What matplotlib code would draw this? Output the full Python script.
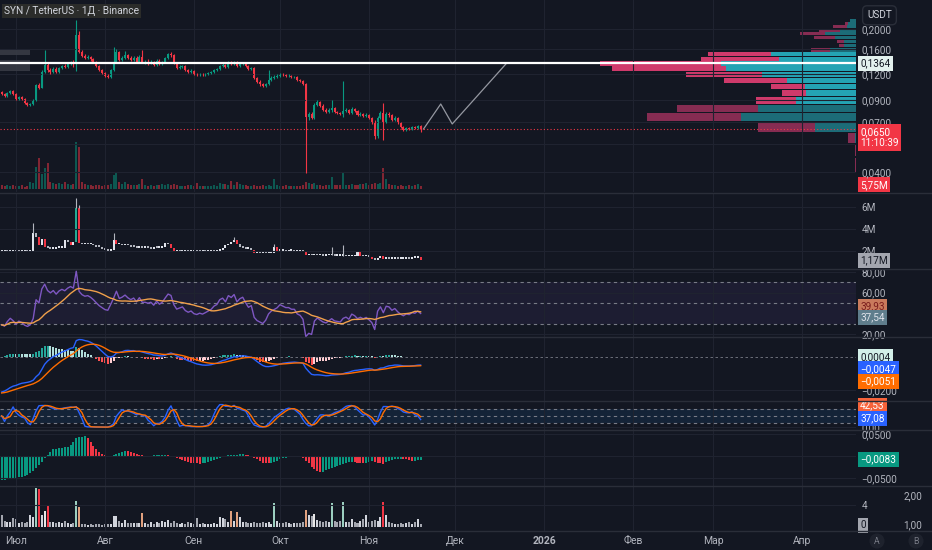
import numpy as np
import pandas as pd
import matplotlib
matplotlib.use("Agg")
import matplotlib.pyplot as plt
import matplotlib.dates as mdates
from matplotlib.lines import Line2D
from matplotlib.patches import Rectangle
from matplotlib.transforms import blended_transform_factory
from matplotlib.ticker import NullLocator

plt.rcParams['font.family'] = ['Roboto', 'DejaVu Sans']

# ---------------- data ----------------
start_date = '2025-06-26'
first_open = 0.0985
closes = [0.0964, 0.0942, 0.0974, 0.0997, 0.0964, 0.0911, 0.0932, 0.0911, 0.0871, 0.0851,
          0.0861, 0.0900, 0.1066, 0.1031, 0.1234, 0.1335, 0.1262, 0.1234, 0.1276, 0.1234,
          0.1290, 0.1320, 0.1305, 0.1350, 0.1380, 0.1365, 0.1870, 0.1545, 0.1477, 0.1444,
          0.1460, 0.1428, 0.1380, 0.1320, 0.1262, 0.1220, 0.1180, 0.1166, 0.1262, 0.1380,
          0.1545, 0.1412, 0.1444, 0.1493, 0.1444, 0.1412, 0.1444, 0.1380, 0.1460, 0.1380,
          0.1380, 0.1365, 0.1380, 0.1335, 0.1396, 0.1350, 0.1380, 0.1444, 0.1510, 0.1493,
          0.1365, 0.1290, 0.1305, 0.1320, 0.1262, 0.1234, 0.1248, 0.1206, 0.1193, 0.1206,
          0.1193, 0.1206, 0.1220, 0.1234, 0.1262, 0.1276, 0.1320, 0.1335, 0.1305, 0.1365,
          0.1350, 0.1380, 0.1320, 0.1350, 0.1365, 0.1320, 0.1276, 0.1290, 0.1153, 0.1103,
          0.1078, 0.1054, 0.1078, 0.1128, 0.1153, 0.1166, 0.1180, 0.1206, 0.1193, 0.1180,
          0.1180, 0.1166, 0.1166, 0.1128, 0.1115, 0.1078, 0.0744, 0.0770, 0.0736, 0.0851,
          0.0881, 0.0842, 0.0805, 0.0787, 0.0805, 0.0823, 0.0787, 0.0778, 0.0770, 0.0796,
          0.0805, 0.0778, 0.0814, 0.0796, 0.0761, 0.0770, 0.0753, 0.0761, 0.0736, 0.0703,
          0.0601, 0.0736, 0.0778, 0.0703, 0.0770, 0.0761, 0.0719, 0.0736, 0.0696, 0.0665,
          0.0643, 0.0658, 0.0650, 0.0665, 0.0658, 0.0673, 0.0650]
highs = [0.0995, 0.0975, 0.0985, 0.1010, 0.1005, 0.0970, 0.0945, 0.0940, 0.0920, 0.0880,
         0.0875, 0.0910, 0.1080, 0.1090, 0.1260, 0.1580, 0.1360, 0.1290, 0.1300, 0.1300,
         0.1310, 0.1340, 0.1345, 0.1370, 0.1400, 0.1410, 0.2210, 0.1950, 0.1580, 0.1510,
         0.1490, 0.1480, 0.1440, 0.1400, 0.1335, 0.1280, 0.1240, 0.1210, 0.1280, 0.1634,
         0.1600, 0.1560, 0.1480, 0.1560, 0.1510, 0.1470, 0.1480, 0.1480, 0.1500, 0.1580,
         0.1410, 0.1420, 0.1410, 0.1400, 0.1420, 0.1420, 0.1400, 0.1460, 0.1530, 0.1540,
         0.1510, 0.1380, 0.1330, 0.1340, 0.1330, 0.1275, 0.1270, 0.1260, 0.1220, 0.1225,
         0.1220, 0.1220, 0.1235, 0.1250, 0.1280, 0.1295, 0.1340, 0.1360, 0.1350, 0.1390,
         0.1400, 0.1400, 0.1400, 0.1380, 0.1385, 0.1380, 0.1335, 0.1310, 0.1300, 0.1170,
         0.1125, 0.1095, 0.1095, 0.1260, 0.1175, 0.1190, 0.1200, 0.1225, 0.1220, 0.1210,
         0.1200, 0.1195, 0.1185, 0.1175, 0.1145, 0.1130, 0.1090, 0.0790, 0.0790, 0.0870,
         0.0900, 0.0895, 0.0860, 0.0820, 0.0820, 0.0900, 0.0830, 0.0800, 0.0790, 0.1115,
         0.0825, 0.0815, 0.0830, 0.0825, 0.0805, 0.0785, 0.0780, 0.0775, 0.0770, 0.0745,
         0.0720, 0.0750, 0.0800, 0.0870, 0.0790, 0.0785, 0.0770, 0.0755, 0.0745, 0.0705,
         0.0670, 0.0668, 0.0665, 0.0675, 0.0675, 0.0680, 0.0680]
lows = [0.0950, 0.0930, 0.0935, 0.0965, 0.0955, 0.0900, 0.0905, 0.0900, 0.0862, 0.0840,
        0.0845, 0.0855, 0.0895, 0.1020, 0.1025, 0.1220, 0.1240, 0.1210, 0.1220, 0.1215,
        0.1225, 0.1275, 0.1290, 0.1295, 0.1335, 0.1300, 0.1250, 0.1520, 0.1460, 0.1420,
        0.1430, 0.1400, 0.1360, 0.1300, 0.1245, 0.1200, 0.1160, 0.1150, 0.1155, 0.1250,
        0.1370, 0.1400, 0.1395, 0.1430, 0.1420, 0.1390, 0.1400, 0.1360, 0.1370, 0.1360,
        0.1355, 0.1340, 0.1345, 0.1320, 0.1320, 0.1330, 0.1335, 0.1370, 0.1430, 0.1460,
        0.1350, 0.1275, 0.1270, 0.1290, 0.1245, 0.1215, 0.1220, 0.1190, 0.1180, 0.1180,
        0.1180, 0.1185, 0.1195, 0.1210, 0.1225, 0.1250, 0.1265, 0.1300, 0.1290, 0.1295,
        0.1330, 0.1330, 0.1300, 0.1310, 0.1335, 0.1305, 0.1260, 0.1265, 0.1140, 0.1090,
        0.1060, 0.1040, 0.1045, 0.1070, 0.1115, 0.1140, 0.1155, 0.1170, 0.1180, 0.1170,
        0.1165, 0.1155, 0.1150, 0.1115, 0.1100, 0.1065, 0.0397, 0.0720, 0.0725, 0.0730,
        0.0840, 0.0830, 0.0795, 0.0775, 0.0780, 0.0790, 0.0780, 0.0770, 0.0760, 0.0740,
        0.0785, 0.0770, 0.0770, 0.0785, 0.0750, 0.0755, 0.0745, 0.0745, 0.0725, 0.0690,
        0.0580, 0.0588, 0.0725, 0.0575, 0.0695, 0.0745, 0.0710, 0.0710, 0.0685, 0.0655,
        0.0635, 0.0638, 0.0640, 0.0645, 0.0650, 0.0650, 0.0630]
volume_m = [8, 6, 8, 6, 8, 6, 6, 8, 4, 6,
            14, 12, 44, 62, 30, 42, 52, 14, 12, 10,
            12, 10, 14, 10, 8, 10, 94, 84, 14, 10,
            8, 8, 6, 8, 8, 6, 8, 8, 10, 28,
            32, 14, 10, 14, 10, 8, 8, 8, 10, 20,
            8, 6, 8, 6, 8, 8, 10, 8, 10, 8,
            10, 8, 6, 6, 6, 8, 8, 6, 12, 6,
            6, 6, 6, 6, 8, 6, 12, 10, 10, 8,
            16, 8, 14, 10, 8, 8, 6, 6, 8, 6,
            6, 8, 6, 8, 6, 20, 8, 6, 6, 8,
            6, 6, 6, 6, 6, 8, 14, 12, 10, 12,
            8, 8, 6, 8, 8, 24, 8, 8, 8, 32,
            8, 8, 10, 8, 8, 10, 10, 12, 8, 10,
            12, 10, 12, 42, 20, 10, 8, 8, 6, 8,
            6, 6, 8, 6, 8, 10, 5.75]
oi_m = [1.9, 1.95, 1.9, 1.95, 2.0, 1.95, 1.9, 1.95, 2.0, 1.95,
        2.0, 3.6, 3.3, 2.5, 3.1, 2.4, 2.3, 2.2, 2.2, 2.25,
        2.3, 2.3, 3.0, 2.8, 2.5, 2.8, 5.9, 2.7, 2.6, 2.7,
        2.6, 2.6, 2.5, 2.4, 2.35, 2.2, 2.1, 2.0, 2.05, 3.0,
        2.6, 2.6, 2.5, 2.55, 2.5, 2.4, 2.35, 2.3, 2.3, 2.25,
        2.3, 2.25, 2.2, 2.3, 2.25, 2.3, 2.4, 2.7, 2.6, 2.3,
        1.95, 1.95, 1.9, 1.9, 1.95, 1.9, 1.95, 2.0, 1.95, 1.9,
        1.95, 1.9, 1.95, 2.0, 1.95, 2.0, 2.1, 2.3, 2.5, 2.6,
        2.8, 3.0, 2.6, 2.4, 2.3, 2.2, 2.2, 2.1, 1.85, 1.85,
        1.8, 1.85, 1.8, 1.85, 1.85, 2.4, 2.0, 2.0, 2.0, 1.95,
        2.0, 2.0, 1.95, 1.95, 2.0, 1.9, 1.6, 1.7, 1.6, 1.65,
        1.6, 1.6, 1.55, 1.6, 1.6, 1.6, 1.55, 1.55, 1.55, 1.55,
        1.5, 1.5, 1.5, 1.55, 2.0, 1.55, 1.5, 1.5, 1.45, 1.3,
        1.2, 1.4, 1.5, 1.3, 1.35, 1.3, 1.3, 1.3, 1.25, 1.3,
        1.3, 1.35, 1.3, 1.35, 1.4, 1.45, 1.17]
oi_wick_index = [11, 26, 27, 39, 81, 95, 115, 119]
oi_wick_high = [4.5, 6.8, 6.2, 3.6, 3.3, 2.6, 2.4, 2.5]
ao_values = [-0.0546, -0.054, -0.053, -0.052, -0.0515, -0.051, -0.0485, -0.047, -0.0455, -0.043,
             -0.039, -0.035, -0.028, -0.020, -0.013, -0.004, 0.002, 0.010, 0.015, 0.017,
             0.0175, 0.018, 0.020, 0.021, 0.024, 0.032, 0.042, 0.044, 0.044, 0.0455,
             0.040, 0.031, 0.023, 0.016, 0.010, 0.0055, 0.0015, -0.003, -0.002, 0.0015,
             0.0045, 0.0075, 0.010, 0.012, 0.011, 0.008, 0.006, 0.0045, 0.003, 0.0015,
             0.001, 0.0, 0.001, 0.0015, 0.0015, 0.0016, 0.0017, 0.002, 0.0015, 0.0,
             -0.002, -0.0045, -0.007, -0.009, -0.011, -0.0135, -0.015, -0.0165, -0.017, -0.0172,
             -0.0165, -0.016, -0.0145, -0.012, -0.010, -0.0075, -0.0045, -0.002, 0.0, 0.0015,
             0.002, 0.003, 0.0032, 0.004, 0.0042, 0.003, 0.0015, -0.001, -0.004, -0.0075,
             -0.011, -0.015, -0.0165, -0.017, -0.016, -0.0135, -0.0105, -0.0075, -0.005, -0.004,
             -0.002, -0.0015, -0.0016, -0.002, -0.003, -0.0045, -0.0105, -0.0165, -0.024, -0.030,
             -0.035, -0.037, -0.0355, -0.032, -0.0295, -0.027, -0.025, -0.023, -0.020, -0.018,
             -0.016, -0.0145, -0.0135, -0.0145, -0.016, -0.0165, -0.017, -0.016, -0.0135, -0.011,
             -0.0135, -0.016, -0.017, -0.0175, -0.0135, -0.0105, -0.009, -0.0075, -0.007, -0.006,
             -0.0065, -0.0075, -0.009, -0.011, -0.0105, -0.009, -0.0083]
relvol = [2.3, 1.1, 0.9, 1.0, 1.6, 1.5, 0.8, 1.0, 0.7, 0.9,
          2.3, 1.8, 7.3, 7.0, 2.3, 2.9, 4.1, 0.9, 1.0, 0.7,
          0.9, 0.8, 1.1, 0.8, 0.5, 0.7, 4.9, 3.7, 0.6, 0.5,
          0.4, 0.5, 0.4, 0.5, 0.5, 0.4, 0.5, 0.5, 0.6, 2.1,
          2.0, 1.1, 0.8, 1.3, 0.8, 0.7, 0.8, 0.7, 0.8, 2.6,
          0.8, 0.6, 0.9, 0.6, 1.0, 0.8, 1.1, 0.9, 1.3, 0.8,
          1.1, 0.8, 0.6, 0.7, 0.6, 0.9, 0.8, 0.6, 1.7, 0.6,
          0.7, 0.5, 0.6, 0.5, 0.8, 0.6, 1.8, 1.6, 1.5, 0.9,
          3.0, 1.1, 2.8, 1.8, 1.0, 0.9, 0.7, 0.8, 1.0, 0.7,
          0.8, 0.9, 0.7, 1.0, 0.6, 4.5, 1.2, 0.8, 0.7, 1.0,
          0.7, 0.6, 0.8, 0.7, 0.8, 1.0, 3.1, 2.3, 2.0, 2.5,
          1.3, 1.1, 0.9, 1.2, 1.0, 4.5, 1.1, 0.9, 1.1, 4.6,
          1.0, 0.9, 1.4, 0.9, 0.8, 1.2, 1.4, 2.3, 1.0, 1.1,
          1.3, 1.2, 1.8, 4.6, 2.3, 0.9, 0.8, 0.6, 0.5, 0.8,
          0.6, 0.7, 0.9, 0.6, 1.0, 1.5, 0.5]

# volume profile (right side of the price pane)
vp_edges = [0.2238, 0.2161, 0.2085, 0.2008, 0.1931, 0.1855, 0.1778, 0.1701, 0.1624, 0.1548,
            0.1471, 0.1394, 0.1318, 0.1241, 0.1164, 0.1088, 0.1011, 0.0934, 0.0857, 0.0781,
            0.0704, 0.0627, 0.0550, 0.0474, 0.0397]
vp_up = [6, 8, 9, 16, 31, 21, 12, 12, 26, 85, 77, 134, 129, 94, 69, 51, 50, 60, 98, 115, 41, 1, 0, 0]
vp_down = [0, 3, 14, 21, 25, 21, 7, 5, 19, 62, 77, 121, 114, 75, 62, 34, 24, 40, 80, 93, 57, 7, 1, 1]
vp_value_area = (0.0857, 0.1548)

key_level = 0.1364
last_price = 0.0650
timer_text = '11:10:39'
proj_dates = ['2025-11-20', '2025-11-26', '2025-11-30', '2025-12-19']
proj_prices = [0.0650, 0.0861, 0.0688, 0.1364]

rsi_seed_gain, rsi_seed_loss = 0.0012, 0.0028
ema12_seed, ema26_seed, signal_seed = 0.108, 0.130, -0.022

# last-value labels as printed on the scales
lbl_volume = '5,75M'
lbl_oi = (1.17, '1,17M')
lbl_rsi_ma = (39.93, '39,93')
lbl_rsi = (37.54, '37,54')
lbl_hist = (0.0004, '0,0004')
lbl_macd = (-0.0047, '\u22120,0047')
lbl_signal = (-0.0051, '\u22120,0051')
lbl_d = (42.53, '42,53')
lbl_k = (37.08, '37,08')
lbl_ao = (-0.0083, '\u22120,0083')
lbl_relvol = (0, '0')

price_ticks = [0.2, 0.16, 0.12, 0.09, 0.07, 0.055, 0.04]
price_labels = ['0,2000', '0,1600', '0,1200', '0,0900', '0,0700', '0,0550', '0,0400']
month_ticks = ['2025-07-01', '2025-08-01', '2025-09-01', '2025-10-01', '2025-11-01',
               '2025-12-01', '2026-01-01', '2026-02-01', '2026-03-01', '2026-04-01']
month_labels = ['Июл', 'Авг', 'Сен', 'Окт', 'Ноя', 'Дек', '2026', 'Фев', 'Мар', 'Апр']

# ---------------- derived ----------------
BG = '#131722'
GRID = '#1f2330'
TXT = '#b2b5be'
UP = '#089981'
DN = '#f23645'
W, H = 932, 550

dates = pd.date_range(start_date, periods=len(closes), freq='D')
x = mdates.date2num(dates)
c = np.array(closes)
o = np.array([first_open] + closes[:-1])
hi = np.array(highs)
lo = np.array(lows)
up = c >= o
candle_col = np.where(up, UP, DN)


def rma(v, n, seed):
    out = np.empty(len(v)); prev = seed
    for k, val in enumerate(v):
        prev = prev + (val - prev) / n
        out[k] = prev
    return out


def ema(v, n, seed):
    a = 2.0 / (n + 1); out = np.empty(len(v)); prev = seed
    for k, val in enumerate(v):
        prev = prev + a * (val - prev)
        out[k] = prev
    return out


delta = c - o
ag = rma(np.clip(delta, 0, None), 14, rsi_seed_gain)
al = rma(np.clip(-delta, 0, None), 14, rsi_seed_loss)
rsi = 100 - 100 / (1 + ag / al)
rsi_ma = pd.Series(rsi).rolling(14, min_periods=1).mean().values

macd = ema(c, 12, ema12_seed) - ema(c, 26, ema26_seed)
signal = ema(macd, 9, signal_seed)
hist = macd - signal

rs = pd.Series(rsi)
lo14 = rs.rolling(14, min_periods=1).min()
hi14 = rs.rolling(14, min_periods=1).max()
stoch = (100 * (rs - lo14) / (hi14 - lo14).replace(0, np.nan)).fillna(50)
k_line = stoch.rolling(3, min_periods=1).mean().values
d_line = pd.Series(k_line).rolling(3, min_periods=1).mean().values

# ---------------- figure ----------------
fig = plt.figure(figsize=(W / 100, H / 100), dpi=100, facecolor=BG)


def rect(top, bottom, left=0, right=856):
    return [left / W, 1 - bottom / H, (right - left) / W, (bottom - top) / H]


x_origin = mdates.date2num(pd.Timestamp('2025-07-01'))
xlim = (x_origin - 5.57, x_origin + 292.7)
month_x = mdates.date2num(pd.to_datetime(month_ticks))
BW = 0.7


def style(ax, grid=True):
    ax.set_facecolor('none')
    for s in ax.spines.values():
        s.set_visible(False)
    ax.set_xlim(xlim)
    ax.set_xticks(month_x)
    ax.tick_params(axis='x', length=0, labelbottom=False)
    ax.yaxis.tick_right()
    ax.tick_params(axis='y', length=0, labelsize=7.2, labelcolor=TXT, pad=4)
    ax.grid(grid, color=GRID, lw=0.8)


def box(ax, y, text, fc, tc, dy=0.0, va='center', fs=7.2):
    ax.annotate(text, xy=(1, y), xycoords=('axes fraction', 'data'), xytext=(3, dy),
                textcoords='offset points', ha='left', va=va, fontsize=fs, color=tc,
                bbox=dict(boxstyle='square,pad=0.25', fc=fc, ec='none'),
                annotation_clip=False, zorder=20, linespacing=1.15)


price_ylim = (0.03204, 0.2770)

# grid layer of the price pane
ax_g = fig.add_axes(rect(0, 192))
ax_g.set_yscale('log')
ax_g.set_ylim(price_ylim)
style(ax_g)
ax_g.set_yticks(price_ticks)
ax_g.yaxis.set_minor_locator(NullLocator())
ax_g.tick_params(axis='y', labelright=False)
ax_g.set_zorder(0)

# volume overlay
ax_v = fig.add_axes(rect(0, 192))
style(ax_v, grid=False)
ax_v.set_ylim(-6, 378)
ax_v.set_yticks([])
ax_v.bar(x, volume_m, width=BW, color=candle_col, alpha=0.5, linewidth=0)
ax_v.set_zorder(1)
box(ax_v, volume_m[-1], lbl_volume, DN, 'white', dy=1)

# volume profile
edges = np.array(vp_edges)
vbot = edges[1:]
vh = edges[:-1] - edges[1:]
vu = np.array(vp_up, float)
vd = np.array(vp_down, float)
in_va = (vbot >= vp_value_area[0] - 1e-6) & (edges[:-1] <= vp_value_area[1] + 1e-6)
ax_p = fig.add_axes(rect(0, 192, 600, 856))
ax_p.set_yscale('log')
ax_p.set_ylim(price_ylim)
ax_p.set_xlim((vu + vd).max(), 0)
ax_p.axis('off')
ax_p.set_zorder(2)
ax_p.barh(vbot + vh * 0.06, vu, height=vh * 0.88, left=0, align='edge',
          color=np.where(in_va, '#24a3b3', '#1c6c78'), linewidth=0)
ax_p.barh(vbot + vh * 0.06, vd, height=vh * 0.88, left=vu, align='edge',
          color=np.where(in_va, '#cf3a6b', '#862c52'), linewidth=0)

# candles
ax = fig.add_axes(rect(0, 192))
ax.set_yscale('log')
ax.set_ylim(price_ylim)
style(ax, grid=False)
ax.set_yticks(price_ticks)
ax.set_yticklabels(price_labels)
ax.yaxis.set_minor_locator(NullLocator())
ax.set_zorder(3)
ax.vlines(x, lo, hi, colors=candle_col, lw=0.8)
ax.bar(x, np.maximum(np.abs(c - o), c * 0.005), bottom=np.minimum(o, c), width=BW,
       color=candle_col, linewidth=0)
ax.axhline(key_level, color='white', lw=1.6, zorder=5)
ax.axhline(last_price, color=DN, lw=0.8, ls=(0, (1, 2)), zorder=4)
ax.plot(mdates.date2num(pd.to_datetime(proj_dates)), proj_prices, color='#9598a1', lw=0.9)
tr = blended_transform_factory(ax.transAxes, ax.transData)
for (p0, p1) in [(0.1493, 0.1580), (0.1248, 0.1412)]:
    ax.add_patch(Rectangle((0, p0), 0.035, p1 - p0, transform=tr, fc='#3a3d47',
                           ec='none', alpha=0.85, zorder=2))
ax.text(0.005, 0.945, 'SYN / TetherUS · 1Д · Binance', transform=ax.transAxes,
        fontsize=7.3, color='#d1d4dc', va='center', ha='left',
        bbox=dict(boxstyle='square,pad=0.2', fc='#2e2f2c', ec='none', alpha=0.9))
ax.annotate('USDT', xy=(1, 1), xycoords='axes fraction', xytext=(8, -11),
            textcoords='offset points', ha='left', va='center', fontsize=7.2, color='#d1d4dc',
            bbox=dict(boxstyle='round,pad=0.45', fc='#131722', ec='#2a2e39'),
            annotation_clip=False)
box(ax, key_level, '0,1364', '#e3f1ee', '#131722')
box(ax, last_price, '0,0650\n' + timer_text, DN, 'white', dy=1.5, va='top')

# open-interest style candle pane
oi = np.array(oi_m)
oi_o = np.array([oi_m[0]] + oi_m[:-1])
ch = (oi - oi_o) / oi_o
oi_col = np.where(ch > 1.0, '#22ab94', np.where(ch < -0.10, DN,
                  np.where(oi >= oi_o, '#e0e3eb', '#b2b5be')))
ax2 = fig.add_axes(rect(193, 268))
style(ax2)
ax2.set_ylim(0.45, 7.27)
ax2.set_yticks([2, 4, 6])
ax2.set_yticklabels(['2M', '4M', '6M'])
wi = np.array(oi_wick_index)
ax2.vlines(x[wi], np.maximum(oi, oi_o)[wi], oi_wick_high, colors='#b2b5be', lw=0.8)
ax2.bar(x, np.maximum(np.abs(oi - oi_o), 0.16), bottom=np.minimum(oi, oi_o), width=BW,
        color=oi_col, linewidth=0)
box(ax2, lbl_oi[0], lbl_oi[1], '#a3a6af', '#131722')

# RSI pane
ax3 = fig.add_axes(rect(269, 337))
style(ax3)
ax3.set_ylim(17.1, 82.9)
ax3.set_yticks([20, 60, 80])
ax3.set_yticklabels(['20,00', '60,00', '80,00'])
ax3.axhspan(30, 70, color='#7e57c2', alpha=0.1, lw=0)
for lv in (70, 50, 30):
    ax3.axhline(lv, color='#787b86', lw=0.8, ls=(0, (3, 3)))
ax3.plot(x, rsi, color='#7e57c2', lw=1.0)
ax3.plot(x, rsi_ma, color='#f0a04b', lw=1.0)
box(ax3, lbl_rsi_ma[0], lbl_rsi_ma[1], '#c97a5c', '#7a1d1d', dy=5.3)
box(ax3, lbl_rsi[0], lbl_rsi[1], '#5f7d8c', '#e0e3eb', dy=-1.2)

# MACD pane
hprev = np.concatenate([[hist[0]], hist[:-1]])
hcol = np.where(hist >= 0, np.where(hist >= hprev, '#26a69a', '#b2dfdb'),
                np.where(hist < hprev, '#ff5252', '#ffcdd2'))
ax4 = fig.add_axes(rect(337, 401))
style(ax4)
ax4.set_ylim(-0.0268, 0.0126)
ax4.set_yticks([-0.02])
ax4.set_yticklabels(['\u22120,0200'])
ax4.axhline(0, color='#787b86', lw=0.6, ls=(0, (3, 3)))
ax4.bar(x, hist, width=BW, color=hcol, linewidth=0)
ax4.plot(x, macd, color='#2962ff', lw=1.0)
ax4.plot(x, signal, color='#ff6d00', lw=1.0)
box(ax4, lbl_hist[0], lbl_hist[1], '#d2efe8', '#131722')
box(ax4, lbl_macd[0], lbl_macd[1], '#2962ff', 'white', dy=-2.8)
box(ax4, lbl_signal[0], lbl_signal[1], '#ff6d00', 'white', dy=-11)

# Stoch RSI pane
ax5 = fig.add_axes(rect(401, 430))
style(ax5)
ax5.set_ylim(-13, 116)
ax5.set_yticks([0])
ax5.set_yticklabels(['0,00'])
ax5.axhspan(20, 80, color='#2196f3', alpha=0.1, lw=0)
for lv in (80, 50, 20):
    ax5.axhline(lv, color='#787b86', lw=0.8, ls=(0, (3, 3)))
ax5.plot(x, k_line, color='#2962ff', lw=1.0)
ax5.plot(x, d_line, color='#ff6d00', lw=1.0)
box(ax5, lbl_d[0], lbl_d[1], '#f7633a', 'white', dy=8.6)
box(ax5, lbl_k[0], lbl_k[1], '#2962ff', 'white', dy=0.5)

# oscillator histogram pane
ao = np.array(ao_values)
aprev = np.concatenate([[ao[0] - 1], ao[:-1]])
acol = np.where(ao >= aprev, UP, DN)
ax6 = fig.add_axes(rect(430, 486))
style(ax6)
ax6.set_ylim(-0.0682, 0.0591)
ax6.set_yticks([0.05, 0, -0.05])
ax6.set_yticklabels(['0,0500', '0,0000', '\u22120,0500'])
ax6.bar(x, ao, width=BW, color=acol, linewidth=0)
box(ax6, lbl_ao[0], lbl_ao[1], UP, 'white')

# relative volume pane
rv = np.array(relvol)
rcol = np.where(rv >= 4, np.where(up, '#9ccfc0', DN),
                np.where(rv >= 2.5, np.where(up, '#e6e6e6', '#e0a07e'),
                         np.where(up, '#d1d4dc', '#a3a6af')))
ax7 = fig.add_axes(rect(486, 531))
style(ax7)
ax7.set_ylim(-0.74, 7.6)
ax7.set_yticks([4])
ax7.set_yticklabels(['4'])
ax7.bar(x, rv, width=BW, color=rcol, linewidth=0)
box(ax7, lbl_relvol[0], lbl_relvol[1], '#a3a6af', '#131722', dy=1.4)
ax7.set_xticks(month_x)
ax7.set_xticklabels(month_labels)
ax7.tick_params(axis='x', labelbottom=True, labelcolor=TXT, labelsize=7.5, pad=3.5)
ax7.get_xticklabels()[6].set_fontweight('bold')

# second scale of the bottom pane
ax7b = fig.add_axes(rect(486, 531))
ax7b.set_facecolor('none')
for s in ax7b.spines.values():
    s.set_visible(False)
ax7b.set_xticks([])
ax7b.yaxis.tick_right()
ax7b.set_ylim(0.76, 2.31)
ax7b.set_yticks([1, 2])
ax7b.set_yticklabels(['1,00', '2,00'])
ax7b.tick_params(axis='y', length=0, labelsize=7.2, labelcolor=TXT, pad=34)

# pane separators
for yp in [192.5, 268.5, 336.5, 401, 430, 486, 531]:
    fig.add_artist(Line2D([0, 1], [1 - yp / H] * 2, color='#2a2e39', lw=1,
                          transform=fig.transFigure))

for xp, t in [(877, 'A'), (916, 'B')]:
    fig.text(xp / W, 1 - 541 / H, t, ha='center', va='center', fontsize=6.3, color='#787b86',
             bbox=dict(boxstyle='circle,pad=0.35', fc='#1e222d', ec='none'))

fig.savefig('out.png', dpi=100, facecolor=BG)
